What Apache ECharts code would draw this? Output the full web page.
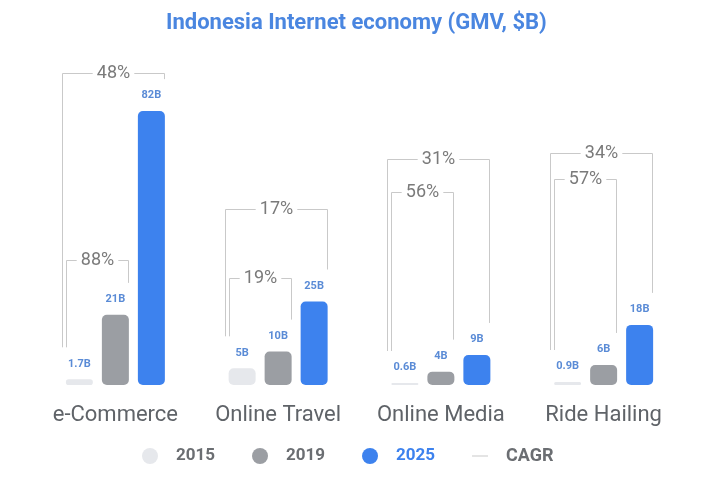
<!DOCTYPE html>
<html>
<head>
<meta charset="utf-8">
<script src="https://cdn.jsdelivr.net/npm/echarts@6/dist/echarts.min.js"></script>
<style>html,body{margin:0;padding:0;background:#fff}#c{width:720px;height:480px}</style>
</head>
<body>
<div id="c"></div>
<script>
// ---- data ----
var categories = ['e-Commerce', 'Online Travel', 'Online Media', 'Ride Hailing'];
var years = ['2015', '2019', '2025'];
var v2015 = [1.7, 5, 0.6, 0.9];
var v2019 = [21, 10, 4, 6];
var v2025 = [82, 25, 9, 18];
var labels2015 = ['1.7B', '5B', '0.6B', '0.9B'];
var labels2019 = ['21B', '10B', '4B', '6B'];
var labels2025 = ['82B', '25B', '9B', '18B'];
var cagr15to25 = ['48%', '17%', '31%', '34%'];
var cagr15to19 = ['88%', '19%', '56%', '57%'];

// ---- layout (bracket heights, in axis units) ----
var outerLevel = [93.4, 52.7, 67.7, 69.5];
var innerLevel = [37.4, 32.0, 57.8, 61.7];

var BAR_W = 27, BAR_GAP = 9;
var COLORS = ['#e6e8ec', '#9b9ea3', '#3d82ee'];
var valueSeries = [v2015, v2019, v2025];
var valueLabels = [labels2015, labels2019, labels2025];

var chart = echarts.init(document.getElementById('c'));

function barSeries(i) {
  return {
    name: years[i],
    type: 'bar',
    barWidth: BAR_W,
    barGap: (BAR_GAP / BAR_W * 100) + '%',
    itemStyle: { color: COLORS[i], borderRadius: 5 },
    label: {
      show: true, position: 'top', distance: 10,
      color: '#5a8bd6', fontSize: 11, fontWeight: 'bold', fontFamily: 'Roboto',
      formatter: function (p) { return valueLabels[i][p.dataIndex]; }
    },
    emphasis: { disabled: true },
    data: valueSeries[i]
  };
}

// bracket items: [catIndex, fromBar, toBar, level, text, isOuter]
var brackets = [];
for (var k = 0; k < categories.length; k++) {
  brackets.push([k, 0, 2, outerLevel[k], cagr15to25[k], 1]);
  brackets.push([k, 0, 1, innerLevel[k], cagr15to19[k], 0]);
}

function renderBracket(params, api) {
  var cat = api.value(0), from = api.value(1), to = api.value(2), level = api.value(3);
  var text = brackets[params.dataIndex][4];
  var outer = brackets[params.dataIndex][5];
  var center = api.coord([cat, 0]);
  var step = BAR_W + BAR_GAP;
  var leftBarX = center[0] + (from - 1) * step - BAR_W / 2;
  var rightBarX = center[0] + (to - 1) * step + BAR_W / 2;
  var lx = Math.round(leftBarX - (outer ? 4 : 0)) + 0.5;
  var rx = Math.round(rightBarX) - 0.5;
  var y = Math.round(api.coord([cat, level])[1]) + 0.5;
  var leftTop = api.coord([cat, valueSeries[from][cat]])[1];
  var rightTop = api.coord([cat, valueSeries[to][cat]])[1];
  var leftEnd = leftTop - 32;
  var rightEnd = rightTop - 32;
  var mid = (lx + rx) / 2;
  var halfText = text.length * 5.6 + 4;
  var style = { stroke: '#c9c9c9', lineWidth: 1, fill: null };
  return {
    type: 'group',
    children: [
      { type: 'polyline', shape: { points: [[lx, leftEnd], [lx, y], [mid - halfText, y]] }, style: style },
      { type: 'polyline', shape: { points: [[mid + halfText, y], [rx, y], [rx, rightEnd]] }, style: style },
      { type: 'text', style: { text: text, x: mid, y: y, align: 'center', verticalAlign: 'middle',
        fill: '#7a7a7a', font: '18px Roboto' } }
    ]
  };
}

var option = {
  backgroundColor: '#ffffff',
  animation: false,
  title: {
    text: 'Indonesia Internet economy (GMV, $B)',
    left: 161, top: 7,
    textStyle: { color: '#4a86e0', fontSize: 22, fontWeight: 'bold', fontFamily: 'Roboto' }
  },
  legend: {
    bottom: 10, left: 137,
    itemWidth: 16, itemHeight: 16, itemGap: 37,
    selectedMode: false,
    textStyle: { fontSize: 17, fontWeight: 'bold', color: '#6b6e72', fontFamily: 'Roboto', padding: [0, 0, 0, 13] },
    data: [
      { name: '2015', icon: 'circle' },
      { name: '2019', icon: 'circle' },
      { name: '2025', icon: 'circle', textStyle: { color: '#3d82ee' } },
      { name: 'CAGR', icon: 'path://M0 0H16V1H0Z', itemStyle: { color: '#c9c9c9' }, textStyle: { fontSize: 18 } }
    ]
  },
  grid: { left: 34, right: 35, top: 51, bottom: 95 },
  xAxis: {
    type: 'category', data: categories,
    axisLine: { show: false }, axisTick: { show: false }, splitLine: { show: false },
    axisLabel: { color: '#5f6368', fontSize: 22, fontFamily: 'Roboto', margin: 19, interval: 0 }
  },
  yAxis: { type: 'value', min: 0, max: 100, show: false },
  series: [
    barSeries(0), barSeries(1), barSeries(2),
    {
      name: 'CAGR', type: 'line', data: [], symbol: 'none',
      lineStyle: { color: '#c9c9c9', width: 1 }, itemStyle: { color: '#c9c9c9' }
    },
    {
      type: 'custom', renderItem: renderBracket, silent: true,
      encode: { x: 0, y: 3 },
      data: brackets.map(function (b) { return [b[0], b[1], b[2], b[3]]; }),
      z: 1
    }
  ]
};
chart.setOption(option);
</script>
</body>
</html>
